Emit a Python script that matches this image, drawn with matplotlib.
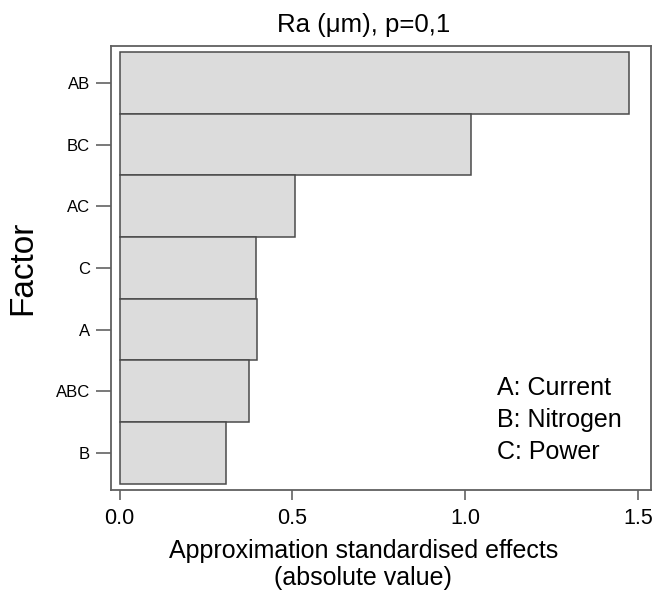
import matplotlib
matplotlib.use('Agg')
import matplotlib.pyplot as plt

# Pareto-like chart of effects on Ra
factors = ['AB', 'BC', 'AC', 'C', 'A', 'ABC', 'B']
effects = [1.474, 1.017, 0.508, 0.396, 0.398, 0.374, 0.309]
xticks = [0.0, 0.5, 1.0, 1.5]
legend_lines = ['A: Current', 'B: Nitrogen', 'C: Power']

plt.rcParams['font.family'] = ['Liberation Sans', 'DejaVu Sans']

fig = plt.figure(figsize=(6.67, 5.92), dpi=100)
ax = fig.add_axes([0.1664, 0.1723, 0.8096, 0.75])

ypos = list(range(len(factors)))[::-1]
ax.barh(ypos, effects, height=1.0, color='#dcdcdc', edgecolor='#4a4a4a', linewidth=1.1)

ax.set_xlim(-0.025, 1.538)
ax.set_ylim(-0.6, len(factors) - 0.4)
ax.set_yticks(ypos)
ax.set_yticklabels(factors, fontsize=12)
ax.set_xticks(xticks)
ax.set_xticklabels([f'{t:.1f}' for t in xticks], fontsize=15.5)
ax.tick_params(axis='y', direction='out', length=11, width=1.1, color='#555555', pad=4)
ax.tick_params(axis='x', direction='out', length=7, width=1.1, color='#555555', pad=6)

for s in ax.spines.values():
    s.set_color('#606060')
    s.set_linewidth(1.3)

ax.set_title('Ra (μm), p=0,1', fontsize=18.5, x=0.467, pad=10)
ax.set_ylabel('Factor', fontsize=24)
ax.yaxis.set_label_coords(-0.135, 0.5)
ax.set_xlabel('Approximation standardised effects\n(absolute value)', fontsize=18, linespacing=1.15)
ax.xaxis.set_label_coords(0.467, -0.11)

leg_y = [0.2297, 0.1577, 0.0856]
for txt, yy in zip(legend_lines, leg_y):
    ax.text(0.715, yy, txt, transform=ax.transAxes, ha='left', va='center', fontsize=18)

fig.savefig('out.png', dpi=100)
